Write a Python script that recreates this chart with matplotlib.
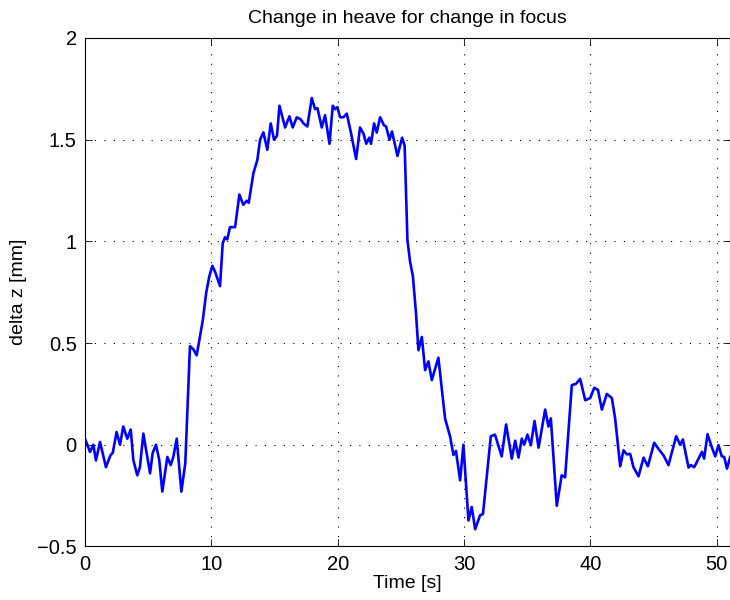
import matplotlib
matplotlib.use('Agg')
from matplotlib import pyplot as plt

plt.rcParams['font.family'] = ['Liberation Sans', 'DejaVu Sans']

# values
time_s = [0.0, 0.4, 0.66, 0.87, 1.19, 1.66, 2.03, 2.2, 2.5, 2.77, 3.03, 3.35, 3.62, 3.83,
          4.14, 4.35, 4.62, 4.88, 5.15, 5.36, 5.62, 5.88, 6.12, 6.52, 6.78, 6.99, 7.26, 7.63,
          7.94, 8.31, 8.57, 8.84, 9.32, 9.6, 9.85, 10.08, 10.3, 10.69, 10.9, 11.08, 11.26,
          11.48, 11.88, 12.22, 12.53, 12.8, 12.96, 13.33, 13.64, 13.86, 14.12, 14.43, 14.7,
          14.96, 15.2, 15.39, 15.84, 16.18, 16.44, 16.76, 17.07, 17.29, 17.6, 17.95, 18.21,
          18.4, 18.74, 19.0, 19.35, 19.61, 19.8, 19.98, 20.19, 20.45, 20.72, 21.03, 21.46,
          21.77, 22.04, 22.26, 22.5, 22.64, 22.88, 23.09, 23.36, 23.67, 23.83, 24.1, 24.3,
          24.73, 25.1, 25.3, 25.52, 25.73, 25.95, 26.2, 26.39, 26.66, 26.92, 27.18, 27.45,
          27.97, 28.24, 28.5, 28.9, 29.16, 29.36, 29.69, 29.95, 30.35, 30.61, 30.88, 31.27,
          31.5, 32.12, 32.45, 32.98, 33.33, 33.78, 34.05, 34.31, 34.57, 34.76, 35.02, 35.29,
          35.58, 35.9, 36.42, 36.68, 36.87, 37.34, 37.73, 38.0, 38.53, 38.87, 39.19, 39.59,
          39.99, 40.3, 40.6, 40.91, 41.3, 41.7, 41.96, 42.36, 42.62, 42.88, 43.15, 43.41,
          43.81, 44.21, 44.55, 45.05, 45.39, 45.79, 46.18, 46.79, 47.1, 47.32, 47.77, 47.95,
          48.22, 48.83, 49.0, 49.27, 49.6, 49.88, 50.14, 50.4, 50.59, 50.81, 51.07]
delta_z = [0.03, -0.035, 0.0, -0.077, 0.014, -0.11, -0.05, -0.04, 0.063, 0.0, 0.09, 0.03, 0.075, -0.076,
           -0.15, -0.11, 0.055, -0.04, -0.14, -0.04, 0.0, -0.076, -0.23, -0.06, -0.10, -0.06, 0.03, -0.23,
           -0.09, 0.485, 0.47, 0.44, 0.61, 0.75, 0.83, 0.88, 0.85, 0.78, 0.99, 1.02, 1.01,
           1.07, 1.07, 1.23, 1.18, 1.2, 1.19, 1.335, 1.40, 1.50, 1.536, 1.45, 1.58,
           1.50, 1.52, 1.667, 1.56, 1.615, 1.56, 1.61, 1.6, 1.58, 1.565, 1.705, 1.65,
           1.655, 1.56, 1.62, 1.48, 1.667, 1.65, 1.66, 1.61, 1.61, 1.628, 1.54, 1.405,
           1.56, 1.53, 1.48, 1.51, 1.48, 1.58, 1.535, 1.61, 1.57, 1.565, 1.50, 1.54,
           1.42, 1.51, 1.47, 1.007, 0.90, 0.83, 0.646, 0.465, 0.53, 0.367, 0.41, 0.318,
           0.428, 0.277, 0.129, 0.04, -0.05, -0.03, -0.175, 0.0, -0.372, -0.306, -0.415, -0.347,
           -0.34, 0.042, 0.05, -0.057, 0.10, -0.068, 0.02, -0.063, 0.03, 0.0, 0.05, -0.002,
           0.117, -0.014, 0.173, 0.09, 0.13, -0.30, -0.15, -0.16, 0.293, 0.30, 0.324, 0.219,
           0.23, 0.28, 0.27, 0.173, 0.25, 0.23, 0.129, -0.106, -0.027, -0.047, -0.045, -0.11,
           -0.155, -0.063, -0.106, 0.01, -0.02, -0.052, -0.1, 0.042, 0.0, 0.026, -0.112, -0.1,
           -0.11, -0.035, -0.068, 0.052, -0.01, -0.057, -0.002, -0.057, -0.06, -0.117, -0.06]

xticks = [0, 10, 20, 30, 40, 50]
yticks = [-0.5, 0, 0.5, 1, 1.5, 2]
yticklabels = ['\u22120.5', '0', '0.5', '1', '1.5', '2']

fig = plt.figure(figsize=(7.3, 6), dpi=100)
ax = fig.add_axes([0.1164, 0.0892, 0.8836, 0.8475])
ax.plot(time_s, delta_z, color=(0, 0, 1), linewidth=1.9, solid_joinstyle='round')

ax.set_xlim(0, 51.05)
ax.set_ylim(-0.5, 2)
ax.set_xticks(xticks)
ax.set_yticks(yticks)
ax.set_yticklabels(yticklabels)
ax.tick_params(direction='in', top=True, right=True, length=5, width=0.6, labelsize=14.5, pad=6)
ax.grid(True, color='black', linestyle=(0, (1, 7.5)), linewidth=0.8)
for s in ax.spines.values():
    s.set_linewidth(0.8)

ax.set_title('Change in heave for change in focus', fontsize=14, pad=11)
ax.set_xlabel('Time [s]', fontsize=14, labelpad=1)
ax.set_ylabel('delta z [mm]', fontsize=14, labelpad=7)

plt.savefig('out.png', dpi=100)
